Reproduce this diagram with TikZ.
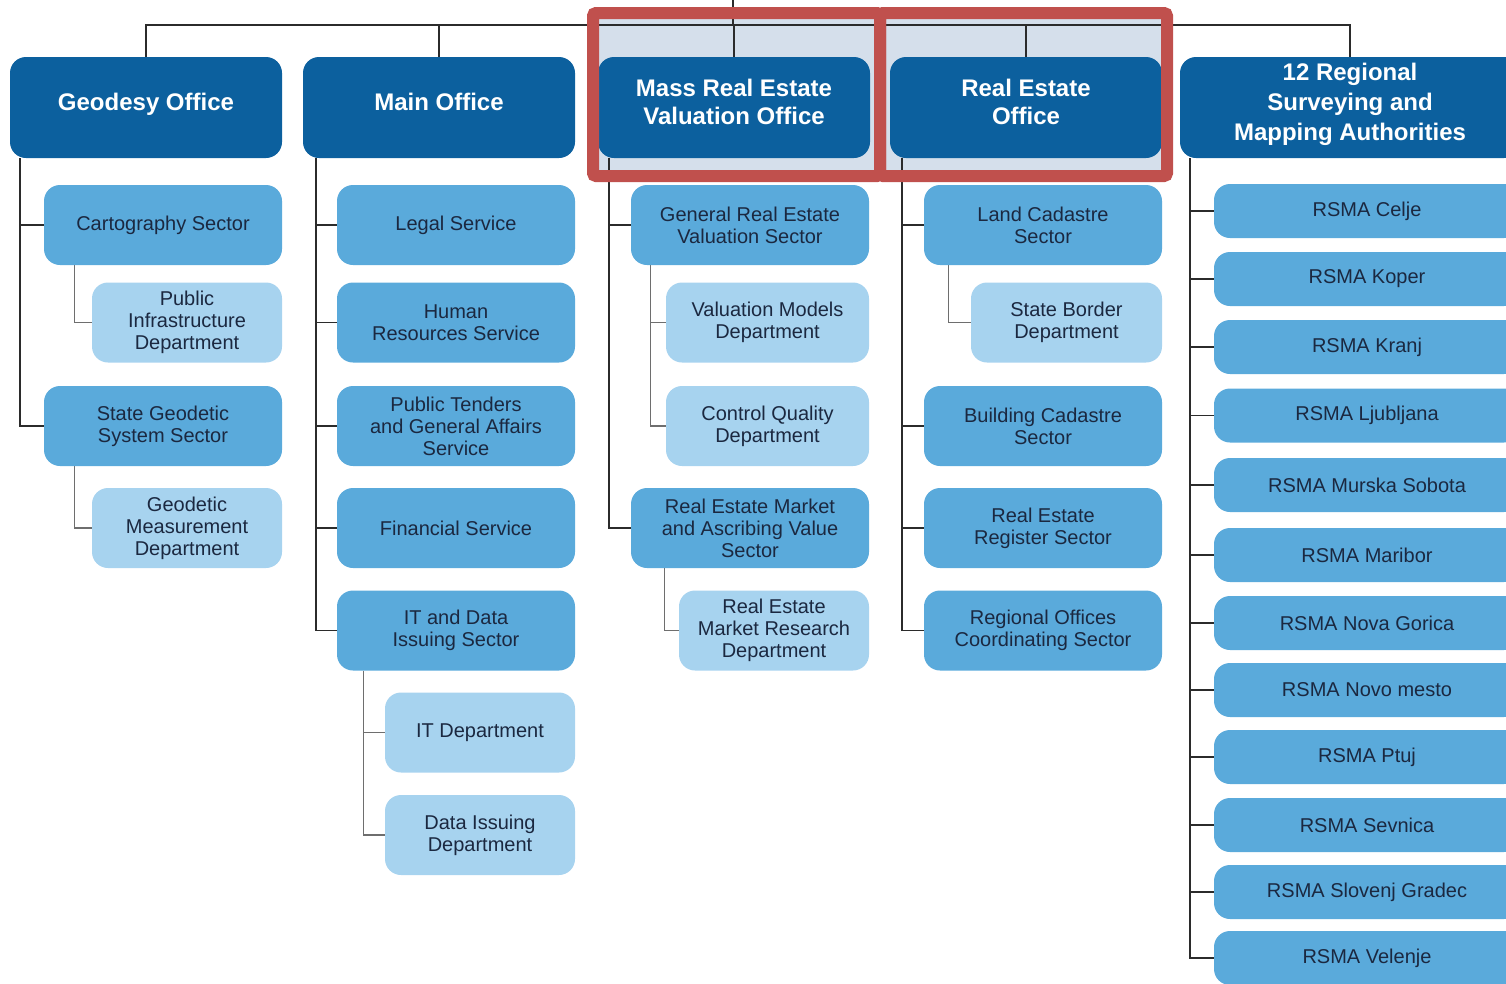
\documentclass[tikz,border=0pt]{standalone}
\usepackage{fontspec}
\setmainfont{Liberation Sans}
\usepackage{tikz}
\usetikzlibrary{positioning,backgrounds}
\definecolor{ink}{HTML}{1B2840}
\definecolor{cofc}{HTML}{0C609E}
\definecolor{csec}{HTML}{5AAADB}
\definecolor{cdep}{HTML}{A7D3EF}
\definecolor{chl}{HTML}{D5DFEB}
\definecolor{cred}{HTML}{C0504D}
\definecolor{cline}{HTML}{2B2B2B}
\definecolor{ctwig}{HTML}{6E6E6E}

\begin{document}
\begin{tikzpicture}[x=1pt,y=-1pt,
  office/.style={rectangle,rounded corners=16pt,fill=cofc,text=white,inner sep=0pt,text depth=11pt,
    font=\bfseries\fontsize{24}{28}\selectfont,align=center,minimum width=272pt,minimum height=101pt},
  sector/.style={rectangle,rounded corners=16pt,fill=csec,text=ink,inner sep=0pt,
    font=\fontsize{20}{22}\selectfont,align=center,minimum width=238pt,minimum height=80pt},
  dept/.style={sector,fill=cdep,minimum width=190pt},
  rsma/.style={sector,minimum width=306pt,minimum height=54pt},
  trunk/.style={draw=cline,line width=1.8pt},
  twig/.style={draw=ctwig,line width=1.2pt},
  frame/.style={draw=cred,line width=12pt,rounded corners=3pt}]
\useasboundingbox (0,0) rectangle (1506,983);
\clip (0,0) rectangle (1506,983);
% offices
\node[office] (geo) at (146,107.5) {Geodesy Office};
\node[office] (main) at (439,107.5) {Main Office};
\node[office] (mass) at (734,107.5) {Mass Real Estate\\Valuation Office};
\node[office] (reo) at (1026,107.5) {Real Estate\\Office};
\node[office,minimum width=340pt,font=\bfseries\fontsize{24}{30}\selectfont] (rsm) at (1350,107.5) {12 Regional\\Surveying and\\Mapping Authorities};
% geodesy office
\node[sector] (carto) at (163,225) {Cartography Sector};
\node[dept] (pid) at (187,322.5) {Public\\Infrastructure\\Department};
\node[sector] (sgs) at (163,426) {State Geodetic\\System Sector};
\node[dept] (gmd) at (187,528) {Geodetic\\Measurement\\Department};
% main office
\node[sector] (legal) at (456,225) {Legal Service};
\node[sector] (hrs) at (456,322.5) {Human\\Resources Service};
\node[sector] (tenders) at (456,426) {Public Tenders\\and General Affairs\\Service};
\node[sector] (fin) at (456,528) {Financial Service};
\node[sector] (itds) at (456,630.5) {IT and Data\\Issuing Sector};
\node[dept] (itdep) at (480,732.5) {IT Department};
\node[dept] (didep) at (480,835) {Data Issuing\\Department};
% mass valuation office
\node[sector] (grev) at (750,225) {General Real Estate\\Valuation Sector};
\node[dept,minimum width=203pt] (vmd) at (767.5,322.5) {Valuation Models\\Department};
\node[dept,minimum width=203pt] (cqd) at (767.5,426) {Control Quality\\Department};
\node[sector] (rem) at (750,528) {Real Estate Market\\and Ascribing Value\\Sector};
\node[dept] (remr) at (774,630.5) {Real Estate\\Market Research\\Department};
% real estate office
\node[sector] (land) at (1043,225) {Land Cadastre\\Sector};
\node[dept,minimum width=191pt] (sbd) at (1066.5,322.5) {State Border\\Department};
\node[sector] (bcs) at (1043,426) {Building Cadastre\\Sector};
\node[sector] (rer) at (1043,528) {Real Estate\\Register Sector};
\node[sector] (roc) at (1043,630.5) {Regional Offices\\Coordinating Sector};
% regional authorities
\node[rsma] (celje) at (1367,211) {RSMA Celje};
\node[rsma] (koper) at (1367,279) {RSMA Koper};
\node[rsma] (kranj) at (1367,347) {RSMA Kranj};
\node[rsma] (ljub) at (1367,415.5) {RSMA Ljubljana};
\node[rsma] (msob) at (1367,485) {RSMA Murska Sobota};
\node[rsma] (mari) at (1367,555) {RSMA Maribor};
\node[rsma] (ngor) at (1367,623) {RSMA Nova Gorica};
\node[rsma] (nmes) at (1367,690) {RSMA Novo mesto};
\node[rsma] (ptuj) at (1367,757) {RSMA Ptuj};
\node[rsma] (sevn) at (1367,825) {RSMA Sevnica};
\node[rsma] (sgra) at (1367,892) {RSMA Slovenj Gradec};
\node[rsma] (vele) at (1367,958) {RSMA Velenje};
\begin{scope}[on background layer]
\fill[chl] (593,13) rectangle (1167,176);
% top bar
\coordinate (root) at (733,0);
\coordinate (bar) at (733,25);
\draw[trunk] (geo.north) -- (geo.north |- bar) -- (rsm.north |- bar) -- (rsm.north);
\draw[trunk] (root) -- (bar);
\draw[trunk] (main.north) -- (main.north |- bar);
\draw[trunk] (mass.north) -- (mass.north |- bar);
\draw[trunk] (reo.north) -- (reo.north |- bar);
% geodesy office
\draw[trunk] ([xshift=10pt]geo.south west) |- (carto.west);
\draw[trunk] ([xshift=10pt]geo.south west) |- (sgs.west);
\draw[twig] ([xshift=31pt]carto.south west) |- (pid.west);
\draw[twig] ([xshift=31pt]sgs.south west) |- (gmd.west);
% main office
\draw[trunk] ([xshift=13pt]main.south west) |- (legal.west);
\draw[trunk] ([xshift=13pt]main.south west) |- (hrs.west);
\draw[trunk] ([xshift=13pt]main.south west) |- (tenders.west);
\draw[trunk] ([xshift=13pt]main.south west) |- (fin.west);
\draw[trunk] ([xshift=13pt]main.south west) |- (itds.west);
\draw[twig] ([xshift=27pt]itds.south west) |- (itdep.west);
\draw[twig] ([xshift=27pt]itds.south west) |- (didep.west);
% mass valuation office
\draw[trunk] ([xshift=11pt]mass.south west) |- (grev.west);
\draw[trunk] ([xshift=11pt]mass.south west) |- (rem.west);
\draw[twig] ([xshift=20pt]grev.south west) |- (vmd.west);
\draw[twig] ([xshift=20pt]grev.south west) |- (cqd.west);
\draw[twig] ([xshift=34pt]rem.south west) |- (remr.west);
% real estate office
\draw[trunk] ([xshift=12pt]reo.south west) |- (land.west);
\draw[trunk] ([xshift=12pt]reo.south west) |- (bcs.west);
\draw[trunk] ([xshift=12pt]reo.south west) |- (rer.west);
\draw[trunk] ([xshift=12pt]reo.south west) |- (roc.west);
\draw[twig] ([xshift=25pt]land.south west) |- (sbd.west);
% regional authorities
\draw[trunk] ([xshift=10pt]rsm.south west) |- (celje.west);
\draw[trunk] ([xshift=10pt]rsm.south west) |- (koper.west);
\draw[trunk] ([xshift=10pt]rsm.south west) |- (kranj.west);
\draw[trunk] ([xshift=10pt]rsm.south west) |- (ljub.west);
\draw[trunk] ([xshift=10pt]rsm.south west) |- (msob.west);
\draw[trunk] ([xshift=10pt]rsm.south west) |- (mari.west);
\draw[trunk] ([xshift=10pt]rsm.south west) |- (ngor.west);
\draw[trunk] ([xshift=10pt]rsm.south west) |- (nmes.west);
\draw[trunk] ([xshift=10pt]rsm.south west) |- (ptuj.west);
\draw[trunk] ([xshift=10pt]rsm.south west) |- (sevn.west);
\draw[trunk] ([xshift=10pt]rsm.south west) |- (sgra.west);
\draw[trunk] ([xshift=10pt]rsm.south west) |- (vele.west);
\end{scope}
% highlight
\draw[frame] (593,13) rectangle (880,176);
\draw[frame] (880,13) rectangle (1167,176);
\end{tikzpicture}
\end{document}
